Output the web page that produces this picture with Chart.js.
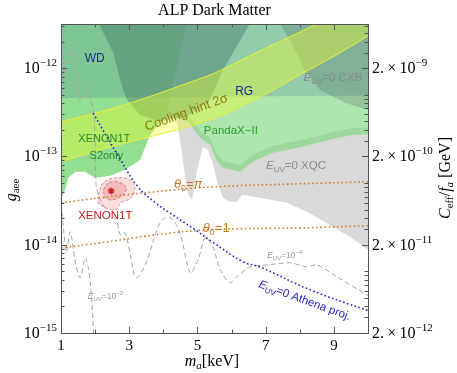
<!DOCTYPE html>
<html>
<head>
<meta charset="utf-8">
<script src="https://cdn.jsdelivr.net/npm/chart.js@4.4.0/dist/chart.umd.min.js"></script>
<style>
  html, body { margin: 0; padding: 0; background: #fff; }
  canvas { display: block; }
</style>
</head>
<body>
<canvas id="alpChart" width="457" height="373"></canvas>
<script>
// [m_a (keV), g_aee] pairs
const pandaxS2Bound = [[0.9,3.2e-14],[1.0,3.23e-14],[1.1,3.98e-14],[1.21,5.73e-14],[1.42,6.7e-14],[1.71,6.7e-14],[2.0,5.73e-14],[2.44,6.03e-14],[2.88,7.05e-14],[3.32,9.12e-14],[3.61,1.76e-13],[4.05,2.74e-13],[4.43,2.74e-13],[4.73,2.47e-13],[5.08,1.63e-13],[5.37,1.35e-13],[5.58,8.69e-14],[5.75,7.43e-14],[6.25,6.7e-14],[6.63,8.69e-14],[7.21,1.1e-13],[8.09,1.29e-13],[8.88,1.54e-13],[9.55,1.76e-13],[10.2,1.76e-13],[10.2,1e-11],[0.9,1e-11]];
const s2onlyBound = [[0.9,3.2e-14],[1.0,3.23e-14],[1.1,3.98e-14],[1.21,5.73e-14],[1.42,6.7e-14],[1.71,6.7e-14],[2.0,5.73e-14],[2.44,6.03e-14],[2.88,7.05e-14],[3.32,9.12e-14],[3.61,1.76e-13],[4.05,2.74e-13],[5.0,1e-11],[0.9,1e-11]];
const xqcBound = [[4.37,3.3e-13],[4.37,2.74e-13],[4.49,1.54e-13],[4.61,7.05e-14],[4.73,3.67e-14],[4.84,3.23e-14],[4.99,7.05e-14],[5.16,1.29e-13],[5.31,1.19e-13],[5.46,8.04e-14],[5.6,4.77e-14],[5.75,3.4e-14],[5.95,3.06e-14],[6.16,3.06e-14],[6.31,3.67e-14],[6.83,3.4e-14],[7.62,2.98e-14],[8.21,2.36e-14],[8.97,1.6e-14],[9.47,1.23e-14],[10.0,8.75e-15],[10.2,8.0e-15],[10.2,2.1e-13],[9.55,2.1e-13],[8.88,1.85e-13],[8.09,1.55e-13],[7.21,1.32e-13],[6.63,1.05e-13],[6.25,8.0e-14],[5.75,8.9e-14],[5.58,1.05e-13],[5.37,1.62e-13],[5.08,1.95e-13],[4.73,2.95e-13],[4.43,3.3e-13]];
const rgBound = [[0.9,4.6e-13],[10.2,4.9e-13],[10.2,1e-11],[0.9,1e-11]];
const wdBound = [[2.0,1e-11],[2.09,3.3e-12],[2.53,1.49e-12],[2.79,6.17e-13],[2.94,4.38e-13],[3.32,2.95e-13],[3.91,2.47e-13],[4.79,2.95e-13],[5.37,4.38e-13],[5.72,9.12e-13],[6.54,3.2e-12],[6.9,1e-11]];
const cxbBound = [[7.2,1e-11],[7.42,3.2e-12],[7.86,1.61e-12],[8.15,9.55e-13],[8.59,5.68e-13],[9.32,4.05e-13],[9.96,3.39e-13],[10.2,3.3e-13],[10.2,1e-11]];
const coolingUpper = [[0.9,2.4e-13],[1.0,2.47e-13],[2.15,3.2e-13],[3.32,4.38e-13],[4.49,6.31e-13],[5.52,8.85e-13],[6.83,1.57e-12],[8.5,3.18e-12],[9.3,5e-12]];
const coolingLower = [[0.9,8.4e-14],[1.0,8.69e-14],[2.15,1.19e-13],[3.61,1.67e-13],[4.93,2.28e-13],[5.95,3.2e-13],[7.13,5.4e-13],[8.0,8.4e-13],[9.03,1.38e-12],[9.96,2.27e-12],[10.2,2.6e-12]];
const euv4Line = [[1.04,2.72e-12],[1.1,8.4e-13],[1.18,1.62e-12],[1.27,1.41e-12],[1.36,1.53e-12],[1.45,5.98e-13],[1.56,4.05e-13],[1.71,7.0e-13],[1.83,5.0e-13],[1.95,3.2e-13],[2.0,1.54e-13],[2.03,4.77e-14],[2.15,3.23e-14],[2.38,2.36e-14],[2.62,1.91e-14],[2.74,1.29e-14],[2.88,1.36e-14],[3.03,7.7e-15],[3.2,4.22e-15],[3.47,5.9e-15],[3.85,1.6e-14],[4.05,2.02e-14],[4.29,1.91e-14],[4.52,1.23e-14],[4.79,4.8e-15],[5.02,6.74e-15],[5.22,1.2e-14],[5.43,1.0e-14],[5.67,5.2e-15],[5.95,3.71e-15],[6.16,4.33e-15],[6.54,5.62e-15],[7.04,5.9e-15],[7.71,6.24e-15],[8.21,5.62e-15],[8.5,5.9e-15],[9.09,4.33e-15],[9.96,2.71e-15],[10.2,2.4e-15]];
const euv2Line = [[1.01,2.83e-14],[1.07,1.55e-14],[1.16,8.3e-15],[1.27,1.4e-14],[1.42,6.4e-15],[1.56,4.22e-15],[1.71,7.1e-15],[1.8,5.48e-15],[1.89,2.71e-15],[1.97,8e-16]];
const athenaLine = [[1.94,3.1e-13],[2.74,9.2e-14],[3.26,4.5e-14],[3.76,3.0e-14],[4.26,2.2e-14],[4.93,1.48e-14],[5.43,1.08e-14],[6.34,6.4e-15],[6.83,5.6e-15],[8.29,3.1e-15],[9.96,1.82e-15],[10.2,1.75e-15]];
const thetaPiLine = [[1.0,2.98e-14],[2.15,3.4e-14],[3.76,3.98e-14],[5.52,4.53e-14],[8.0,4.9e-14],[10.0,5.15e-14]];
const thetaOneLine = [[1.0,9.2e-15],[2.15,1.05e-14],[3.76,1.29e-14],[5.37,1.48e-14],[8.0,1.55e-14],[10.0,1.64e-14]];
const xenonOuter = [[2.09,3.67e-14],[2.24,5.02e-14],[2.59,5.73e-14],[3.03,5.43e-14],[3.17,4.41e-14],[3.06,3.4e-14],[2.76,2.98e-14],[2.59,2.49e-14],[2.3,2.62e-14],[2.09,2.98e-14],[2.09,3.67e-14]];
const xenonInner = [[2.24,4.19e-14],[2.39,5.02e-14],[2.68,5.15e-14],[2.91,4.41e-14],[2.79,3.58e-14],[2.5,3.23e-14],[2.3,3.4e-14],[2.24,4.19e-14]];
const xenonBest = [[2.47,4.07e-14]];

const massTicks = [1, 2, 3, 4, 5, 6, 7, 8, 9, 10];
const massLabels = [1, 3, 5, 7, 9];
const gDecades = [-15, -14, -13, -12];
const ceffExps = [-12, -11, -10, -9];

const SERIF = "'Liberation Serif','Times New Roman',serif";
const SANS = "'Liberation Sans',Arial,sans-serif";

const coolingBand = coolingUpper.concat(coolingLower.slice().reverse());

const area = (pts, color) => ({
  data: pts, showLine: true, fill: 'shape', backgroundColor: color,
  borderColor: 'rgba(0,0,0,0)', borderWidth: 0, pointRadius: 0, tension: 0
});
const curve = (pts, color, width, dash, tension) => ({
  data: pts, showLine: true, fill: false, borderColor: color, borderWidth: width,
  borderDash: dash || [], pointRadius: 0, tension: tension === undefined ? 0.4 : tension
});

// painting order, bottom first
const layers = [
  area(xqcBound, 'rgb(217,217,217)'),
  area(pandaxS2Bound, 'rgba(120,215,120,0.6)'),
  area(s2onlyBound, 'rgba(60,200,60,0.25)'),
  area(rgBound, 'rgba(80,140,160,0.3)'),
  area(wdBound, 'rgba(60,110,100,0.4)'),
  area(cxbBound, 'rgba(90,110,110,0.3)'),
  area(coolingBand, 'rgba(240,255,40,0.38)'),
  curve(coolingUpper, 'rgb(235,235,60)', 1, [], 0.3),
  curve(coolingLower, 'rgb(235,235,60)', 1, [], 0.3),
  curve(euv4Line, 'rgb(165,165,165)', 1, [5, 3], 0.3),
  curve(euv2Line, 'rgb(165,165,165)', 1, [5, 3], 0.3),
  Object.assign(area(xenonOuter, 'rgba(235,140,140,0.3)'), {borderColor: 'rgba(220,120,120,0.8)', borderWidth: 1, borderDash: [3, 2], tension: 0.35}),
  Object.assign(area(xenonInner, 'rgba(225,110,110,0.3)'), {borderColor: 'rgba(210,100,100,0.8)', borderWidth: 1, borderDash: [3, 2], tension: 0.35}),
  {data: xenonBest, showLine: false, pointStyle: 'star', pointRadius: 3.5, borderColor: '#c81e1e', borderWidth: 1.3, backgroundColor: '#c81e1e'},
  curve(thetaPiLine, 'rgb(210,125,40)', 1.6, [1.6, 2.6]),
  curve(thetaOneLine, 'rgb(210,125,40)', 1.6, [1.6, 2.6]),
  curve(athenaLine, 'rgb(35,35,215)', 1.6, [1.6, 2.4])
];
layers.forEach((d, i) => { d.order = layers.length - i; });

const notes = [
  {at: [1.99, 1.31e-12], color: '#1e2a8c', parts: [['WD', 12]]},
  {at: [6.37, 5.52e-13], color: '#1e2a8c', parts: [['RG', 12]]},
  {at: [8.97, 7.9e-13], color: '#8a8a8a', parts: [['E', 11.5, 'italic'], ['UV', 8, '', 3], ['=0 CXB', 11.5]]},
  {at: [4.67, 3.2e-13], rot: -20, color: '#8a7a10', parts: [['Cooling hint 2σ', 13]]},
  {at: [5.98, 2.0e-13], color: '#2f9a2f', parts: [['PandaX−II', 11.5]]},
  {at: [2.27, 1.62e-13], color: '#2a8a2a', parts: [['XENON1T', 11]]},
  {at: [2.33, 1.04e-13], color: '#2a8a2a', parts: [['S2only', 11]]},
  {at: [7.89, 8.0e-14], color: '#8c8c8c', parts: [['E', 11.5, 'italic'], ['UV', 8, '', 3], ['=0 XQC', 11.5]]},
  {at: [4.73, 5.0e-14], color: '#c8781e', parts: [['θ', 13, 'italic'], ['0', 9, '', 3], ['=', 13], ['π', 13, 'italic']]},
  {at: [5.55, 1.56e-14], color: '#c8781e', parts: [['θ', 13, 'italic'], ['0', 9, '', 3], ['=1', 13]]},
  {at: [2.3, 2.18e-14], color: '#c81e1e', parts: [['XENON1T', 11.5]]},
  {at: [2.3, 2.6e-15], color: '#9a9a9a', parts: [['E', 8.5, 'italic'], ['UV', 6, '', 2], ['=10', 8.5], ['−2', 6, '', -4]]},
  {at: [7.56, 7.7e-15], color: '#9a9a9a', parts: [['E', 8.5, 'italic'], ['UV', 6, '', 2], ['=10', 8.5], ['−4', 6, '', -4]]},
  {at: [8.15, 2.38e-15], rot: 20, color: '#2525c8', parts: [['E', 11.5, 'italic'], ['UV', 8, '', 3], ['=0 Athena proj.', 11.5]]}
];

function rich(ctx, parts, x, y, o) {
  o = o || {};
  const fam = o.family || SANS;
  ctx.save();
  ctx.translate(x, y);
  if (o.rot) ctx.rotate(o.rot * Math.PI / 180);
  ctx.textAlign = 'left';
  ctx.textBaseline = 'alphabetic';
  let w = 0;
  const m = parts.map(p => {
    const f = (p[2] ? p[2] + ' ' : '') + p[1] + 'px ' + fam;
    ctx.font = f;
    const pw = ctx.measureText(p[0]).width;
    w += pw;
    return {t: p[0], f: f, pw: pw, dy: p[3] || 0};
  });
  let cx = o.align === 'right' ? -w : (o.align === 'left' ? 0 : -w / 2);
  const by = o.mid ? parts[0][1] * 0.35 : 0;
  ctx.fillStyle = o.color || '#000';
  m.forEach(p => { ctx.font = p.f; ctx.fillText(p.t, cx, by + p.dy); cx += p.pw; });
  ctx.restore();
}

const notesPlugin = {
  id: 'notes',
  afterDatasetsDraw(chart) {
    const {ctx, scales: {x, y}} = chart;
    notes.forEach(n => {
      rich(ctx, n.parts, x.getPixelForValue(n.at[0]), y.getPixelForValue(n.at[1]),
        {rot: n.rot, color: n.color, mid: true});
    });
  }
};

const framePlugin = {
  id: 'frame',
  afterDraw(chart) {
    const {ctx, chartArea: a, scales: {x, y}} = chart;
    const seg = (x1, y1, x2, y2) => { ctx.beginPath(); ctx.moveTo(x1, y1); ctx.lineTo(x2, y2); ctx.stroke(); };
    ctx.save();
    ctx.strokeStyle = '#555';
    ctx.lineWidth = 1;
    ctx.strokeRect(a.left + 0.5, a.top + 0.5, a.right - a.left, a.bottom - a.top);
    massTicks.forEach(v => {
      const px = Math.round(x.getPixelForValue(v)) + 0.5;
      const len = v % 2 ? 6 : 3.5;
      seg(px, a.bottom, px, a.bottom - len);
      seg(px, a.top, px, a.top + len);
    });
    const gMax = y.max;
    gDecades.forEach(e => {
      for (let k = 1; k <= 9; k++) {
        const v = k * Math.pow(10, e);
        if (v > gMax) continue;
        const py = Math.round(y.getPixelForValue(v)) + 0.5;
        seg(a.left, py, a.left + (k === 1 ? 6 : 3.5), py);
      }
    });
    ceffExps.forEach(e => {
      [2, 3, 4, 5, 6, 7, 8, 9, 10].forEach(k => {
        const v = k * Math.pow(10, e) / 2000;
        if (v > gMax || v < y.min) return;
        const py = Math.round(y.getPixelForValue(v)) + 0.5;
        seg(a.right, py, a.right - (k === 2 ? 6 : 3.5), py);
      });
    });
    // tick labels
    massLabels.forEach(v => {
      rich(ctx, [[String(v), 15]], x.getPixelForValue(v), 350, {family: SERIF});
    });
    gDecades.forEach(e => {
      rich(ctx, [['10', 16], ['−' + Math.abs(e), 11, '', -7]], 57, y.getPixelForValue(Math.pow(10, e)) + 5,
        {family: SERIF, align: 'right'});
    });
    ceffExps.forEach(e => {
      rich(ctx, [['2.\u2009×\u200910', 16], ['−' + Math.abs(e), 11, '', -7]], 372, y.getPixelForValue(2 * Math.pow(10, e) / 2000) + 5,
        {family: SERIF, align: 'left'});
    });
    // titles
    rich(ctx, [['ALP Dark Matter', 16]], (a.left + a.right) / 2, 15, {family: SERIF});
    rich(ctx, [['m', 16, 'italic'], ['a', 11, 'italic', 3], ['[keV]', 16]], 212, 366, {family: SERIF});
    rich(ctx, [['g', 16, 'italic'], ['aee', 11, '', 3]], 16, 190, {family: SERIF, rot: -90});
    rich(ctx, [['C', 16, 'italic'], ['eff', 11, '', 3], ['/', 16], ['f', 16, 'italic'], ['a', 11, 'italic', 3], [' [GeV]', 16]],
      450, 178, {family: SERIF, rot: -90});
    ctx.restore();
  }
};

new Chart(document.getElementById('alpChart'), {
  type: 'scatter',
  data: {datasets: layers},
  options: {
    responsive: false,
    animation: false,
    devicePixelRatio: 1,
    layout: {padding: {left: 61, right: 89, top: 24, bottom: 40}},
    scales: {
      x: {type: 'linear', min: 1, max: 10, display: false},
      y: {type: 'logarithmic', min: 1e-15, max: Math.pow(10, -11.5), display: false}
    },
    plugins: {legend: {display: false}, tooltip: {enabled: false}, title: {display: false}}
  },
  plugins: [notesPlugin, framePlugin]
});
</script>
</body>
</html>
